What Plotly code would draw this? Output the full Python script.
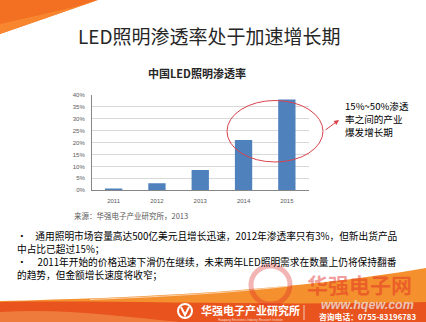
import plotly.graph_objects as go

# Chart data
years = ["2011", "2012", "2013", "2014", "2015"]
penetration = [0.8, 3.0, 8.5, 21.0, 38.0]  # %
y_ticks = [0, 5, 10, 15, 20, 25, 30, 35, 40]

W, H = 426, 322
CJK = "Noto Sans CJK SC"


def px(x):
    return x / W


def py(y):
    return 1 - y / H


def path(points, close=True):
    s = "M " + " L ".join(f"{px(x):.4f},{py(y):.4f}" for x, y in points)
    return s + (" Z" if close else "")


fig = go.Figure(
    go.Bar(
        x=years,
        y=penetration,
        marker=dict(color="#4F81BD", line=dict(width=0)),
        hoverinfo="x+y",
    )
)

fig.update_layout(
    width=W,
    height=H,
    margin=dict(l=0, r=0, t=0, b=0),
    paper_bgcolor="white",
    plot_bgcolor="white",
    showlegend=False,
    bargap=0.6,
    xaxis=dict(
        domain=[px(92), px(308.5)],
        showgrid=False,
        showline=True,
        linecolor="#868686",
        linewidth=1,
        ticks="outside",
        ticklen=4,
        tickcolor="rgba(0,0,0,0)",
        tickfont=dict(family="Liberation Sans", size=6, color="#595959"),
        automargin=False,
        fixedrange=True,
    ),
    yaxis=dict(
        domain=[py(190.3), py(94.7)],
        range=[0, 40],
        tickvals=y_ticks,
        ticktext=[f"{v}%" for v in y_ticks],
        showgrid=True,
        gridcolor="#D9D9D9",
        gridwidth=1,
        zeroline=False,
        showline=True,
        linecolor="#868686",
        linewidth=1,
        ticks="outside",
        ticklen=5,
        tickcolor="rgba(0,0,0,0)",
        tickfont=dict(family="Liberation Sans", size=6, color="#595959"),
        automargin=False,
        fixedrange=True,
    ),
)

shapes = []
# Top-left corner decoration
shapes.append(dict(type="path", xref="paper", yref="paper",
                   path=path([(0, 0), (98, 0), (0, 34)]),
                   fillcolor="#F36F21", line=dict(width=0), layer="below"))
shapes.append(dict(type="path", xref="paper", yref="paper",
                   path=path([(0, 24), (70, 8), (98, 0), (0, 34)]),
                   fillcolor="#F7862E", line=dict(width=0), layer="below"))

# Bottom banner
shapes.append(dict(type="path", xref="paper", yref="paper",
                   path=(f"M {px(0)},{py(301)} C {px(140)},{py(298)} {px(300)},{py(290)} {px(426)},{py(268)} "
                         f"L {px(426)},{py(322)} L {px(0)},{py(322)} Z"),
                   fillcolor="#F4902E", line=dict(width=0)))
shapes.append(dict(type="path", xref="paper", yref="paper",
                   path=(f"M {px(0)},{py(302)} C {px(120)},{py(300)} {px(260)},{py(306)} {px(426)},{py(302)} "
                         f"L {px(426)},{py(322)} L {px(0)},{py(322)} Z"),
                   fillcolor="#E8531E", line=dict(width=0)))
shapes.append(dict(type="path", xref="paper", yref="paper",
                   path=(f"M {px(0)},{py(312)} C {px(60)},{py(308)} {px(120)},{py(316)} {px(180)},{py(322)} "
                         f"L {px(0)},{py(322)} Z"),
                   fillcolor="#EE7A3C", line=dict(width=0)))
shapes.append(dict(type="path", xref="paper", yref="paper",
                   path=(f"M {px(90)},{py(299.5)} C {px(160)},{py(297)} {px(220)},{py(294)} {px(290)},{py(286)}"),
                   line=dict(color="rgba(255,255,255,0.6)", width=1.2)))
# Separator in footer
shapes.append(dict(type="line", xref="paper", yref="paper",
                   x0=px(304), x1=px(304), y0=py(305), y1=py(320),
                   line=dict(color="rgba(255,255,255,0.7)", width=1)))
# Footer logo
shapes.append(dict(type="circle", xref="paper", yref="paper",
                   x0=px(178), x1=px(192), y0=py(318), y1=py(304),
                   fillcolor="rgba(0,0,0,0)", line=dict(color="white", width=2)))
shapes.append(dict(type="path", xref="paper", yref="paper",
                   path=path([(181, 307), (185, 315), (189, 307)], close=False),
                   line=dict(color="white", width=2)))
# Watermark ring
shapes.append(dict(type="circle", xref="paper", yref="paper",
                   x0=px(251), x1=px(290), y0=py(304), y1=py(266),
                   fillcolor="rgba(0,0,0,0)", line=dict(color="rgba(220,40,40,0.35)", width=5)))

# Highlight ellipse around the fast-growth years
shapes.append(dict(type="circle", xref="paper", yref="paper",
                   x0=px(227), x1=px(323), y0=py(162), y1=py(100.5),
                   line=dict(color="#D9444C", width=1)))

annotations = []


def text(x, y, s, size, color="#000000", anchor="left", family=CJK, bold=False, italic=False):
    annotations.append(dict(
        x=px(x), y=py(y), xref="paper", yref="paper",
        text=s, showarrow=False, xanchor=anchor, yanchor="middle", align="left",
        borderpad=0,
        font=dict(family=family, size=size, color=color,
                  weight="bold" if bold else "normal",
                  style="italic" if italic else "normal"),
    ))


text(209, 35, "LED照明渗透率处于加速增长期", 19, color="#262626", anchor="center")
text(196.5, 73, "中国LED照明渗透率", 11, color="#262626", anchor="center", bold=True)
text(73, 215.7, "来源：华强电子产业研究所，2013", 7.5, color="#595959")

text(344, 106, "15%~50%渗透", 9.6)
text(344, 119, "率之间的产业", 9.6)
text(344, 132, "爆发增长期", 9.6)

NB = "&nbsp;"
text(16, 242.3, "•" + NB * 4 + "通用照明市场容量高达500亿美元且增长迅速，2012年渗透率只有3%，但新出货产品"
     + "<br>中占比已超过15%；", 9.7)
text(16, 268.3, "•" + NB * 5 + "2011年开始的价格迅速下滑仍在继续，未来两年LED照明需求在数量上仍将保持翻番"
     + "<br>的趋势，但金额增长速度将收窄；", 9.7)

# Banner texts
text(359, 284, "华强电子网", 21, color="rgba(225,35,35,0.45)", anchor="center", bold=True)
text(367, 305, "www.hqew.com", 12.5, color="rgba(235,235,235,0.75)", anchor="center",
     family="Liberation Sans", bold=True, italic=True)
text(367, 316.6, "咨询电话：0755-83196783", 7.8, color="white", anchor="center", bold=True)
text(251, 309.5, "华强电子产业研究所", 11, color="white", anchor="center", bold=True)
text(251, 320, "Huaqiang Electronics Industry Research Institute", 3,
     color="rgba(255,255,255,0.8)", anchor="center", family="Liberation Sans")

# Arrow from the ellipse to the note
annotations.append(dict(
    x=px(339), y=py(120), xref="paper", yref="paper",
    ax=-15, ay=11, axref="pixel", ayref="pixel",
    text="", showarrow=True, arrowhead=2, arrowsize=1, arrowwidth=1,
    arrowcolor="#D9444C",
))

fig.update_layout(shapes=shapes, annotations=annotations)
fig.write_html("out.html")
